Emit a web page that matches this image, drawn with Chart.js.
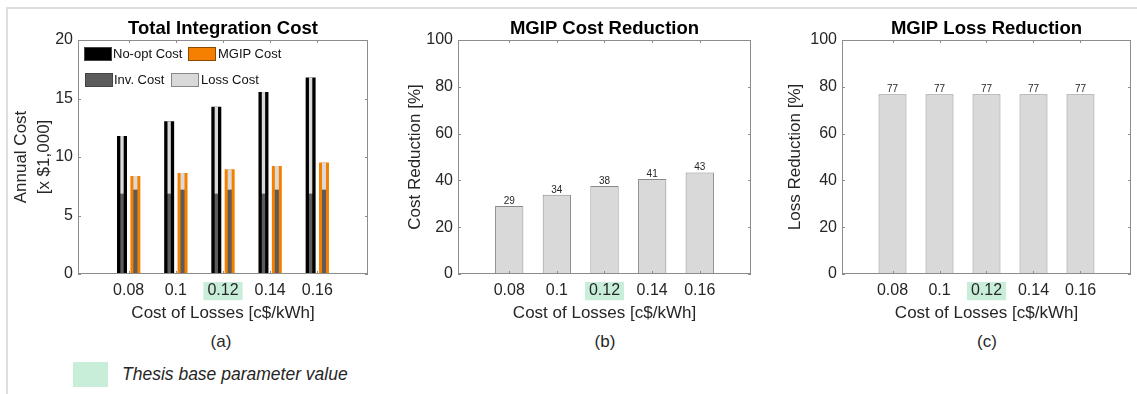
<!DOCTYPE html>
<html>
<head>
<meta charset="utf-8">
<script src="https://cdn.jsdelivr.net/npm/chart.js@4.4.1/dist/chart.umd.min.js"></script>
<style>
    body { margin: 0; background: #fff; width: 1137px; height: 394px; position: relative; overflow: hidden;
           font-family: "Liberation Sans", Arial, sans-serif; color: #262626; }
    .frameTop { position: absolute; left: 6px; top: 7px; right: 0; height: 2px; background: #dedede; }
    .frameLeft { position: absolute; left: 6px; top: 7px; bottom: 0; width: 2px; background: #dedede; }
    canvas { position: absolute; top: 2px; }
    canvas.overlay { pointer-events: none; z-index: 3; }
    .cap { position: absolute; font-size: 17px; transform: translate(-50%, -50%); white-space: nowrap; }
    .sw { position: absolute; width: 26px; height: 12px; border: 1px solid #444; }
    .lt { position: absolute; font-size: 13px; line-height: 14px; white-space: nowrap; color: #111; }
    .note { position: absolute; left: 122px; top: 364px; font-size: 17.5px; font-style: italic; color: #262626; }
    .noteBox { position: absolute; left: 73px; top: 362px; width: 35px; height: 25px; background: #c8eed9; }
</style>
</head>
<body>
<div class="frameTop"></div>
<div class="frameLeft"></div>

<canvas id="chartA" width="380" height="330" style="left:0"></canvas>
<canvas id="chartB" width="380" height="330" style="left:380px"></canvas>
<canvas id="chartC" width="377" height="330" style="left:760px"></canvas>

<!-- legend of panel (a) -->
<div class="sw" style="left:84px;top:47px;background:#000"></div>
<div class="lt" style="left:113px;top:47px">No-opt Cost</div>
<div class="sw" style="left:188px;top:47px;background:#f58000;border-color:#8a4a00"></div>
<div class="lt" style="left:218px;top:47px">MGIP Cost</div>
<div class="sw" style="left:85px;top:73px;background:#5c5c5c"></div>
<div class="lt" style="left:114px;top:73px">Inv. Cost</div>
<div class="sw" style="left:171px;top:73px;background:#d9d9d9;border-color:#888"></div>
<div class="lt" style="left:201px;top:73px">Loss Cost</div>

<div class="cap" style="left:221px;top:342px">(a)</div>
<div class="cap" style="left:605px;top:342px">(b)</div>
<div class="cap" style="left:987px;top:342px">(c)</div>

<div class="noteBox"></div>
<div class="note">Thesis base parameter value</div>

<script>
const costs = [0.08, 0.1, 0.12, 0.14, 0.16];
const baseCost = 0.12;

const noOptTotal = [11.8, 13.05, 14.3, 15.55, 16.8];
const mgipTotal = [8.38, 8.64, 8.95, 9.23, 9.52];
const noOptInv = [6.85, 6.85, 6.85, 6.85, 6.85];
const noOptLoss = [4.95, 6.2, 7.45, 8.7, 9.95];
const mgipInv = [7.2, 7.2, 7.2, 7.2, 7.2];
const mgipLoss = [1.18, 1.44, 1.75, 2.03, 2.32];

const costReduction = [29.1, 33.9, 37.6, 40.6, 43.4];
const lossReduction = [76.8, 76.8, 76.8, 76.8, 76.8];

const costTicks = [0, 5, 10, 15, 20];
const pctTicks = [0, 20, 40, 60, 80, 100];

const xMin = 0.0585;
const xMax = 0.1815;

const BLACK = "#000000";
const ORANGE = "#f58000";
const DARK = "#5c5c5c";
const LIGHT = "#d9d9d9";
const MINT = "#c8eed9";
const TEXT = "#262626";

Chart.defaults.font.family = '"Liberation Sans", Arial, sans-serif';
Chart.defaults.color = TEXT;

// inner strips are floating bars: inv from 0, loss sitting on top of inv
const lower = inv => inv.map(v => [0, v]);
const upper = (inv, loss) => inv.map((v, i) => [v, v + loss[i]]);

// box round the plot area with small inward ticks, drawn on a see-through canvas over the chart
function drawBox(chart) {
    const src = chart.canvas;
    const over = document.createElement("canvas");
    over.className = "overlay";
    over.width = src.width;
    over.height = src.height;
    over.style.left = src.style.left;
    src.parentNode.appendChild(over);

    const ctx = over.getContext("2d");
    const a = chart.chartArea;
    const x = chart.scales.x, y = chart.scales.y;
    const tl = 3;
    ctx.strokeStyle = "#8c8c8c";
    ctx.lineWidth = 1;
    ctx.strokeRect(Math.round(a.left) + 0.5, Math.round(a.top) + 0.5,
                   Math.round(a.right - a.left) - 1, Math.round(a.bottom - a.top) - 1);
    ctx.beginPath();
    costs.forEach(v => {
        const px = Math.round(x.getPixelForValue(v)) + 0.5;
        ctx.moveTo(px, a.bottom); ctx.lineTo(px, a.bottom - tl);
        ctx.moveTo(px, a.top); ctx.lineTo(px, a.top + tl);
    });
    y.ticks.forEach(t => {
        const py = Math.round(y.getPixelForValue(t.value)) + 0.5;
        ctx.moveTo(a.left, py); ctx.lineTo(a.left + tl, py);
        ctx.moveTo(a.right, py); ctx.lineTo(a.right - tl, py);
    });
    ctx.stroke();
}

const valueLabels = {
    id: "valueLabels",
    afterDatasetsDraw(chart) {
        const { ctx } = chart;
        const meta = chart.getDatasetMeta(0);
        const vals = chart.data.datasets[0].data;
        ctx.save();
        ctx.font = '10px "Liberation Sans", Arial, sans-serif';
        ctx.fillStyle = TEXT;
        ctx.textAlign = "center";
        ctx.textBaseline = "alphabetic";
        meta.data.forEach((bar, i) => {
            ctx.fillText(String(Math.round(vals[i])), bar.x, bar.y - 2);
        });
        ctx.restore();
    }
};

function costAxis() {
    return {
        type: "linear",
        min: xMin,
        max: xMax,
        offset: false,
        afterBuildTicks: s => { s.ticks = costs.map(v => ({ value: v })); },
        afterFit: s => { s.height = 58; },
        grid: { display: false, drawTicks: false, offset: false },
        border: { display: false },
        ticks: {
            font: { size: 16 },
            padding: 7,
            callback: v => String(v),
            showLabelBackdrop: c => c.tick && c.tick.value === baseCost,
            backdropColor: MINT,
            backdropPadding: { left: 4, right: 4, top: -1, bottom: 0 }
        },
        title: {
            display: true,
            text: "Cost of Losses [c$/kWh]",
            font: { size: 17 },
            padding: { top: 0, bottom: 8 }
        }
    };
}

function valueAxis(tickVals, width, title, lineHeight, pad) {
    return {
        min: tickVals[0],
        max: tickVals[tickVals.length - 1],
        stacked: false,
        afterFit: s => { s.width = width; },
        afterBuildTicks: s => { s.ticks = tickVals.map(v => ({ value: v })); },
        grid: { display: false, drawTicks: false },
        border: { display: false },
        ticks: { font: { size: 16 }, padding: 5 },
        title: {
            display: true,
            text: title,
            font: { size: 17, lineHeight: lineHeight },
            padding: { top: pad, bottom: 0 }
        }
    };
}

function titleOpts(text) {
    return {
        display: true,
        text: text,
        fullSize: false,
        color: "#000",
        font: { size: 18.5, weight: "bold", lineHeight: 1.1 },
        padding: { top: 17, bottom: 0.65 }
    };
}

// (a) total integration cost
const outer = { categoryPercentage: 0.567, barPercentage: 0.746, order: 2, borderWidth: 0 };
const innerNo = { categoryPercentage: 0.567, barPercentage: 0.25, order: 1, borderWidth: 0, stack: "noopt" };
const innerMg = { categoryPercentage: 0.567, barPercentage: 0.3, order: 1, borderWidth: 0, stack: "mgip" };

const chartA = new Chart(document.getElementById("chartA"), {
    type: "bar",
    data: {
        labels: costs,
        datasets: [
            Object.assign({ label: "No-opt Cost", data: noOptTotal, backgroundColor: BLACK, stack: "noopt" }, outer),
            Object.assign({ label: "MGIP Cost", data: mgipTotal, backgroundColor: ORANGE, stack: "mgip" }, outer),
            Object.assign({ label: "Inv. Cost", data: lower(noOptInv), backgroundColor: DARK }, innerNo),
            Object.assign({ label: "Loss Cost", data: upper(noOptInv, noOptLoss), backgroundColor: LIGHT }, innerNo),
            Object.assign({ label: "Inv. Cost", data: lower(mgipInv), backgroundColor: DARK }, innerMg),
            Object.assign({ label: "Loss Cost", data: upper(mgipInv, mgipLoss), backgroundColor: LIGHT }, innerMg)
        ]
    },
    options: {
        responsive: false,
        animation: false,
        layout: { padding: { left: 0, right: 12, top: 0, bottom: 0 } },
        plugins: { legend: { display: false }, tooltip: { enabled: false }, title: titleOpts("Total Integration Cost") },
        scales: {
            x: costAxis(),
            y: valueAxis(costTicks, 78, ["Annual Cost", "[x $1,000]"], 1.35, 9.5)
        }
    }
});

function reductionChart(id, data, title, yTitle, yWidth, rightPad) {
    return new Chart(document.getElementById(id), {
        type: "bar",
        data: {
            labels: costs,
            datasets: [{
                label: yTitle,
                data: data,
                backgroundColor: LIGHT,
                borderColor: "#8a8a8a",
                borderWidth: 1,
                borderSkipped: "bottom",
                categoryPercentage: 1,
                barPercentage: 0.595
            }]
        },
        options: {
            responsive: false,
            animation: false,
            layout: { padding: { left: 0, right: rightPad, top: 0, bottom: 0 } },
            plugins: { legend: { display: false }, tooltip: { enabled: false }, title: titleOpts(title) },
            scales: {
                x: costAxis(),
                y: valueAxis(pctTicks, yWidth, yTitle, 1.2, 24.8)
            }
        },
        plugins: [valueLabels]
    });
}

const chartB = reductionChart("chartB", costReduction, "MGIP Cost Reduction", "Cost Reduction [%]", 78, 9);
const chartC = reductionChart("chartC", lossReduction, "MGIP Loss Reduction", "Loss Reduction [%]", 82, 6);

[chartA, chartB, chartC].forEach(drawBox);
</script>
</body>
</html>
